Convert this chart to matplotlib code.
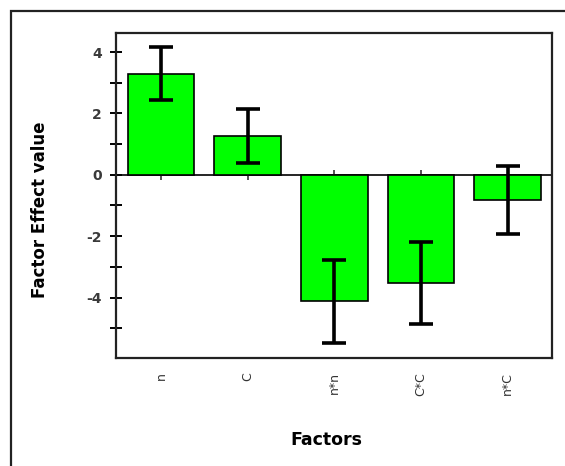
import numpy as np
from matplotlib import pyplot as plt
from matplotlib.patches import Rectangle
from matplotlib.ticker import MultipleLocator

plt.rcParams["axes.unicode_minus"] = False

factors = ["n", "C", "n*n", "C*C", "n*C"]
effects = [3.30, 1.27, -4.12, -3.53, -0.82]
errors = [0.87, 0.88, 1.35, 1.34, 1.10]

fig = plt.figure(figsize=(5.65, 4.66), dpi=100)

# outer frame around the whole panel
fig.patches.append(Rectangle((11 / 565, -0.05), 1.2, 1 - 11 / 466 + 0.05,
                             transform=fig.transFigure, fill=False,
                             edgecolor="#222222", linewidth=1.6))

ax = fig.add_axes([116 / 565, 1 - 358 / 466, 436 / 565, 325 / 466])

x = np.arange(len(factors))
ax.bar(x, effects, width=0.77, color="#00ff00", edgecolor="black",
       linewidth=1.2, zorder=2)
ax.errorbar(x, effects, yerr=errors, fmt="none", ecolor="black",
            elinewidth=2.6, capsize=8.5, capthick=2.6, zorder=3)

ax.axhline(0, color="black", linewidth=1.2, zorder=1)
ax.plot(x, np.zeros(len(x)), linestyle="none", marker="|", markersize=7,
        color="#333333", markeredgewidth=1.2, zorder=1)

ax.set_xlim(-0.52, 4.51)
ax.set_ylim(-5.97, 4.62)

ax.yaxis.set_major_locator(MultipleLocator(2))
ax.yaxis.set_minor_locator(MultipleLocator(1))
ax.tick_params(axis="y", which="both", direction="inout", length=8,
               width=1.4, labelsize=10, pad=6, labelcolor="#3a3a3a")
for lab in ax.get_yticklabels():
    lab.set_fontweight("bold")

ax.set_xticks(x)
ax.set_xticklabels(factors, rotation=90, fontsize=9, color="#333333",
                   va="top")
ax.tick_params(axis="x", length=0, pad=10)

for s in ax.spines.values():
    s.set_linewidth(1.6)
    s.set_color("#222222")

fig.text(40 / 565, 1 - 210 / 466, "Factor Effect value", rotation=90,
         ha="center", va="center", fontsize=12, fontweight="bold")
fig.text(326 / 565, 1 - 440 / 466, "Factors", ha="center", va="center",
         fontsize=12.5, fontweight="bold")

fig.savefig("out.png", dpi=100)
